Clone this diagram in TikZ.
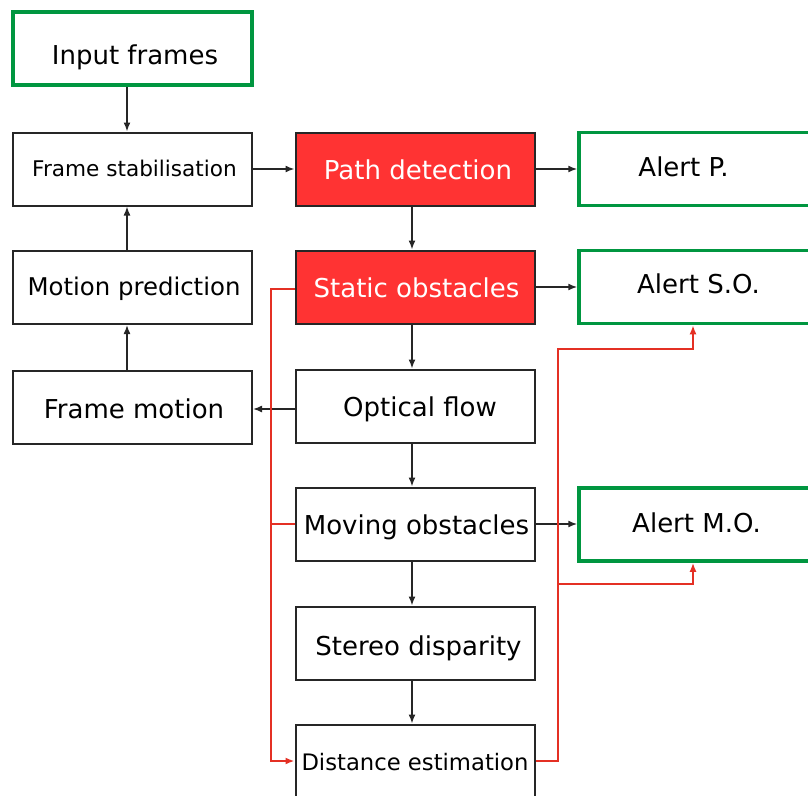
\documentclass[tikz,border=0pt]{standalone}
\usepackage{fontspec}
\setmainfont{DejaVu Sans}
\usetikzlibrary{arrows.meta,calc,positioning}
\definecolor{boxgreen}{RGB}{0,150,64}
\definecolor{boxred}{RGB}{255,51,51}
\definecolor{linered}{RGB}{228,48,36}
\tikzset{
	block/.style={draw=black!85, line width=2pt, minimum width=239pt, minimum height=73pt, inner sep=0pt, text height=21.8pt, text depth=0pt, font=\fontsize{26}{30}\selectfont},
	hot/.style={block, fill=boxred, text=white},
	alert/.style={block, draw=boxgreen, line width=3.5pt, text height=15pt},
	arr/.style={line width=1.5pt, draw=black!85, -{Latex[length=9pt,width=7pt]}},
	redarr/.style={line width=2pt, draw=linered, -{Latex[length=9pt,width=7pt]}},
	redline/.style={line width=2pt, draw=linered},
}
\begin{document}
\begin{tikzpicture}[x=1pt,y=-1pt]
	\clip (0,0) rectangle (808,795);

	% left column
	\node[alert, text height=31pt] (input) at (132.5,48.5) {\hspace*{5pt}Input frames};
	\node[block, text height=15.4pt, font=\fontsize{21.6}{26}\selectfont] (stab) at (132.5,169) {\hspace*{4pt}Frame stabilisation};
	\node[block, text height=16.4pt, font=\fontsize{24.4}{28}\selectfont] (pred) at (132.5,287.5) {\hspace*{3pt}Motion prediction};
	\node[block, text height=22.6pt] (fmot) at (132.5,407) {\hspace*{3pt}Frame motion};

	% middle column
	\node[hot] (path) at (415,169) {\hspace*{6pt}Path detection};
	\node[hot] (static) at (415,287) {\hspace*{3pt}Static obstacles};
	\node[block, text height=21.4pt] (optic) at (415,406) {\hspace*{10pt}Optical flow};
	\node[block] (moving) at (415,524) {\hspace*{3pt}Moving obstacles};
	\node[block, text height=24pt] (stereo) at (415,643) {\hspace*{7pt}Stereo disparity};
	\node[block, text height=18pt, font=\fontsize{22.7}{27}\selectfont] (dist) at (415,761) {Distance estimation};

	% alerts
	\node[alert] (alertp) at (698.5,169) {Alert P.\hspace*{30pt}};
	\node[alert, text height=12.6pt] (alertso) at (698.5,287) {Alert S.O.};
	\node[alert] (alertmo) at (698.5,524.5) {Alert M.O.\hspace*{4pt}};

	\draw[arr] ([xshift=-5.5pt]input.south) -- ([xshift=-5.5pt]stab.north);
	\draw[arr] ([xshift=-5.5pt]pred.north) -- ([xshift=-5.5pt]stab.south);
	\draw[arr] ([xshift=-5.5pt]fmot.north) -- ([xshift=-5.5pt]pred.south);
	\draw[arr] (stab.east) -- (path.west);
	\draw[arr] (path.east) -- (alertp.west);
	\draw[arr] (static.east) -- (static.east -| alertso.west);
	\draw[arr] (moving.east) -- (moving.east -| alertmo.west);
	\draw[arr] ([yshift=-3pt]optic.west) -- ([yshift=-3pt]optic.west -| fmot.east);
	\foreach \a/\b in {path/static, static/optic, optic/moving, moving/stereo, stereo/dist}
		\draw[arr] ([xshift=-3pt]\a.south) -- ([xshift=-3pt]\b.north);

	% red feedback lines
	\coordinate (soin) at ([xshift=-5.5pt]alertso.south);
	\coordinate (moin) at ([xshift=-5.5pt]alertmo.south);
	\draw[redarr] ([yshift=-2pt]static.west) -- ++(-24,0) coordinate (rl) |- (dist.west);
	\draw[redline] (moving.west) -- (moving.west -| rl);
	\draw[redarr] (dist.east) -- ++(22,0) coordinate (rr) |- ($(soin)+(0,24)$) -- (soin);
	\draw[redarr] (rr |- 0,584) -| (moin);
\end{tikzpicture}
\end{document}
